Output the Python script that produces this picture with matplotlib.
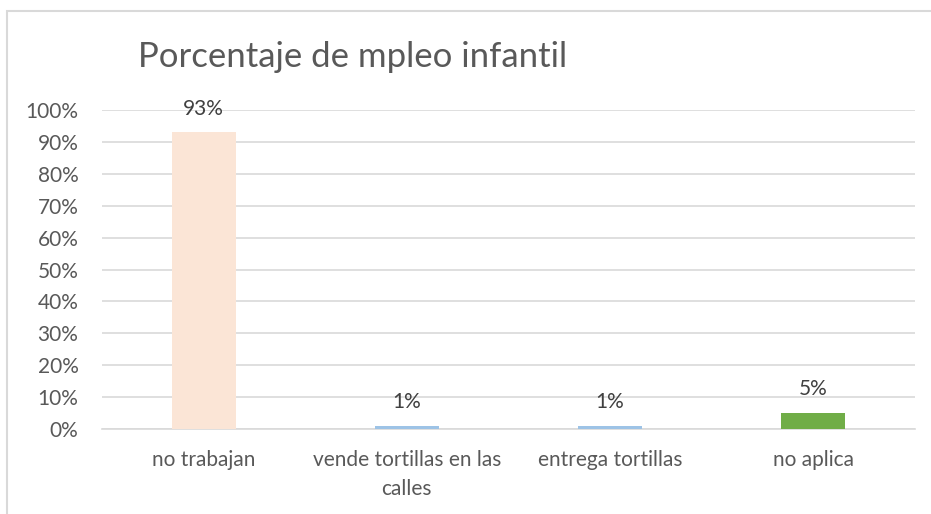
import matplotlib.pyplot as plt
from matplotlib.patches import Rectangle
from matplotlib.ticker import MultipleLocator, PercentFormatter

categories = ["no trabajan", "vende tortillas en las\ncalles", "entrega tortillas", "no aplica"]
values = [0.93, 0.01, 0.01, 0.05]
labels = ["93%", "1%", "1%", "5%"]
colors = ["#FBE5D6", "#9DC3E6", "#9DC3E6", "#70AD47"]

plt.rcParams['font.family'] = ['Lato', 'DejaVu Sans']

fig = plt.figure(figsize=(9.31, 5.14), dpi=100)
fig.patches.append(Rectangle((7 / 931, -0.1), 1.1, 1 - 11 / 514 + 0.1,
                             transform=fig.transFigure, fill=False,
                             edgecolor="#D9D9D9", linewidth=1.5))

ax = fig.add_axes([102 / 931, 1 - 429 / 514, 813 / 931, 319 / 514])
x = range(len(categories))
ax.bar(x, values, width=0.315, color=colors, zorder=3)

for i, (v, lab) in enumerate(zip(values, labels)):
    ax.annotate(lab, (i, v), xytext=(0, 17), textcoords="offset points",
                ha="center", va="center", fontsize=15, color="#404040")

ax.set_xlim(-0.5, len(categories) - 0.5)
ax.set_ylim(0, 1.0)
ax.yaxis.set_major_locator(MultipleLocator(0.1))
ax.yaxis.set_major_formatter(PercentFormatter(1.0, decimals=0))
ax.grid(axis="y", color="#D9D9D9", linewidth=1.2, zorder=0)
ax.set_xticks(list(x))
ax.set_xticklabels(categories, linespacing=1.55)
ax.tick_params(axis="both", length=0, labelsize=15, labelcolor="#595959")
ax.tick_params(axis="x", pad=15)
ax.tick_params(axis="y", pad=17)
for s in ["top", "right", "left"]:
    ax.spines[s].set_visible(False)
ax.spines["bottom"].set_color("#D9D9D9")
ax.spines["bottom"].set_linewidth(1.2)

fig.text(138 / 931, 1 - 57 / 514, "Porcentaje de mpleo infantil",
         fontsize=25, color="#595959", ha="left", va="center")

fig.savefig("out.png", dpi=100)
